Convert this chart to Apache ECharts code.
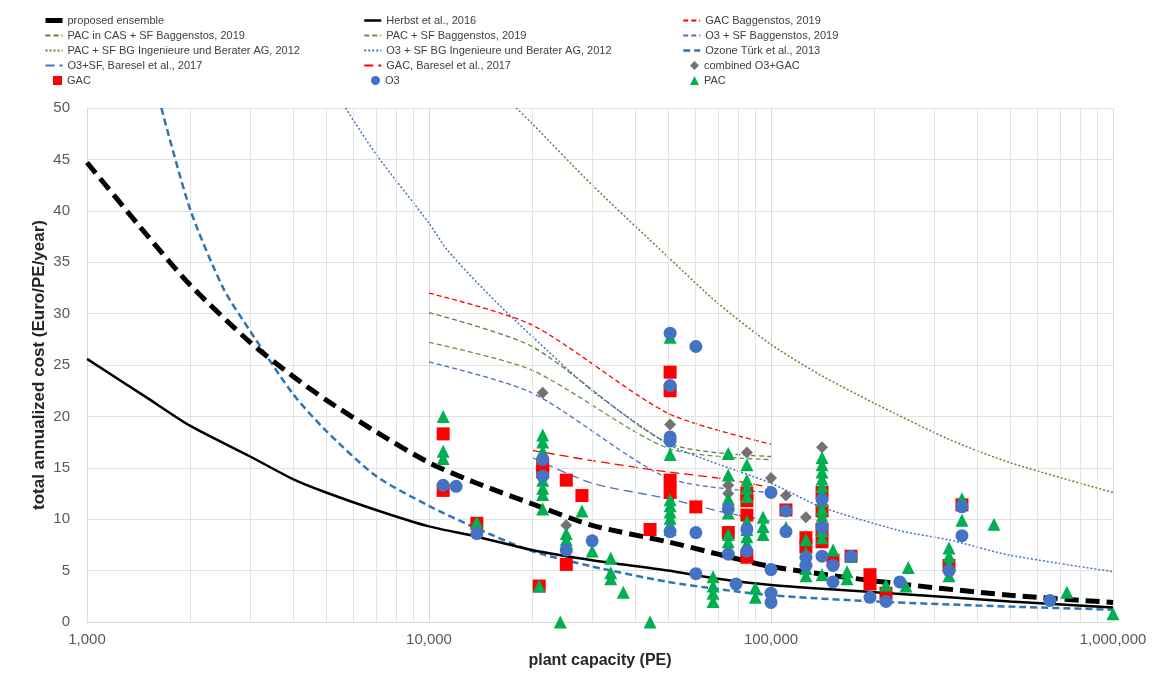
<!DOCTYPE html>
<html>
<head>
<meta charset="utf-8">
<script src="https://cdn.jsdelivr.net/npm/echarts@6/dist/echarts.min.js"></script>
<style>
html,body{margin:0;padding:0;background:#fff;}
#chart{width:1170px;height:677px;}
</style>
</head>
<body>
<div id="chart"></div>
<script>
// ---- axis ticks ----
const xTicks = [1000, 10000, 100000, 1000000];
const yTicks = [0, 5, 10, 15, 20, 25, 30, 35, 40, 45, 50];

// ---- line series (PE, cost) ----
const proposedEnsemble = [[1000,44.7],[1500,37.6],[2000,32.8],[3000,27.2],[4000,23.9],[5000,21.6],[7000,18.5],[10000,15.5],[13800,13.5],[20000,11.5],[30000,9.4],[50000,7.8],[70000,6.6],[100000,5.4],[200000,4.0],[500000,2.6],[1000000,1.9]];
const herbst2016 = [[1000,25.6],[1500,21.8],[2000,19.1],[3000,16.1],[4000,13.9],[5000,12.6],[7000,10.9],[10000,9.3],[13800,8.3],[20000,7.0],[30000,6.0],[50000,5.0],[70000,4.2],[100000,3.6],[200000,2.9],[500000,2.0],[1000000,1.4]];
const gacBaggenstos = [[10000,32.0],[20000,28.9],[50000,20.3],[100000,17.3]];
const pacCasSfBaggenstos = [[10000,30.1],[20000,26.8],[50000,17.4],[100000,16.1]];
const pacSfBaggenstos = [[10000,27.2],[20000,24.5],[50000,16.9],[100000,15.8]];
const o3SfBaggenstos = [[10000,25.3],[20000,22.3],[50000,14.0],[100000,12.6]];
const pacSfBG = [[18000,50],[20000,48.5],[30000,42.5],[50000,35.5],[70000,31.0],[100000,27.0],[140000,24.0],[200000,21.3],[330000,17.8],[500000,15.5],[1000000,12.6]];
const o3SfBG = [[5700,50],[7000,45.5],[10000,38.8],[11300,36.2],[15000,31.8],[20000,27.8],[30000,22.5],[50000,17.3],[62000,16.0],[100000,13.5],[140000,11.2],[237000,8.9],[330000,8.0],[500000,6.5],[1000000,4.9]];
const ozoneTurk = [[1650,50],[2000,40.2],[2500,32.5],[3000,28.3],[4000,22.2],[5000,18.6],[7000,14.2],[10000,11.3],[13800,9.1],[20000,6.9],[30000,5.4],[50000,3.9],[70000,3.2],[100000,2.6],[200000,2.0],[500000,1.5],[1000000,1.2]];
const o3SfBaresel = [[20000,16.0],[30000,13.5],[50000,12.0],[70000,10.8],[100000,9.8]];
const gacBaresel = [[20000,16.7],[30000,15.7],[50000,14.6],[70000,14.0],[100000,13.1]];

// ---- scatter series (PE, cost) ----
const combinedPoints = [[21500,22.3],[25200,9.4],[50700,19.2],[75000,13.3],[75000,12.5],[85000,16.5],[100000,14.0],[110600,12.3],[126500,10.2],[141000,17.0]];
const gacPoints = [[11000,18.3],[11000,12.8],[13800,9.6],[21000,3.5],[21500,15.3],[21500,14.6],[25200,13.8],[25200,5.6],[28000,12.3],[44300,9.0],[50700,24.3],[50700,22.5],[50700,13.8],[50700,12.6],[60300,11.2],[75000,8.7],[85000,12.5],[85000,11.8],[85000,10.4],[85000,6.3],[110600,10.9],[126500,8.2],[126500,7.3],[141000,12.6],[141000,10.8],[141000,9.0],[141000,7.8],[151800,6.0],[171400,6.4],[194700,4.6],[194700,3.7],[216900,2.8],[331500,5.5],[361700,11.4]];
const pacPoints = [[11000,20.0],[11000,16.6],[11000,15.9],[13800,9.7],[21000,3.5],[21500,18.2],[21500,17.5],[21500,16.6],[21500,13.8],[21500,13.0],[21500,12.4],[21500,11.0],[24200,0],[25200,8.6],[25200,8.0],[25200,7.4],[28000,10.8],[30000,6.9],[34000,6.2],[34000,4.8],[34000,4.2],[37000,2.9],[44300,0],[50700,27.7],[50700,16.3],[50700,11.9],[50700,11.3],[50700,10.7],[50700,10.1],[50700,9.5],[50700,9.0],[67700,4.4],[67700,3.5],[67700,2.8],[67700,2.0],[75000,16.4],[75000,14.3],[75000,12.0],[75000,11.5],[75000,10.6],[75000,8.5],[75000,7.8],[75000,7.2],[85000,15.3],[85000,13.8],[85000,13.0],[85000,12.2],[85000,9.8],[85000,9.0],[85000,8.3],[85000,7.6],[90000,3.3],[90000,2.4],[94800,10.2],[94800,9.3],[94800,8.5],[110600,9.2],[126500,8.0],[126500,6.7],[126500,6.0],[126500,5.2],[126500,4.5],[141000,16.0],[141000,15.3],[141000,14.6],[141000,13.9],[141000,13.2],[141000,12.5],[141000,11.8],[141000,11.0],[141000,10.3],[141000,9.6],[141000,8.9],[141000,8.2],[141000,4.6],[151800,7.0],[166800,4.9],[166800,4.2],[171400,6.4],[216900,3.6],[248000,3.5],[252000,5.3],[331500,7.2],[331500,6.4],[331500,5.6],[331500,4.5],[361700,12.0],[361700,9.9],[448700,9.5],[733000,2.9],[1000000,0.8]];
const o3Points = [[11000,13.3],[12000,13.2],[13800,8.6],[21500,15.8],[21500,14.2],[25200,7.0],[30000,7.9],[50700,28.1],[50700,23.0],[50700,18.0],[50700,17.6],[50700,8.8],[60300,26.8],[60300,8.7],[60300,4.7],[75000,11.0],[75000,6.6],[79000,3.7],[85000,9.0],[85000,6.9],[100000,12.6],[100000,5.1],[100000,2.8],[100000,1.9],[110600,10.8],[110600,8.8],[126500,6.3],[126500,5.5],[141000,11.9],[141000,9.2],[141000,6.4],[151800,5.5],[151800,3.9],[171400,6.4],[194700,2.4],[216900,2.0],[238000,3.9],[331500,5.0],[361700,11.2],[361700,8.4],[654000,2.1]];

// minor vertical gridlines at 2..9 x each decade
const minorGrid = [];
for (let i = 0; i < xTicks.length - 1; i++) {
  for (let k = 2; k <= 9; k++) minorGrid.push(k * xTicks[i]);
}

const FONT = 'Liberation Sans';
const chart = echarts.init(document.getElementById('chart'), null, {renderer: 'canvas'});

function lineSeries(name, data, color, width, dash, z) {
  return {
    name, type: 'line', data, symbol: 'none', smooth: 0.25,
    lineStyle: {color, width, type: dash},
    itemStyle: {color},
    z: z || 3, clip: true
  };
}
function scatterSeries(name, data, symbol, size, color, z) {
  return {
    name, type: 'scatter', data, symbol, symbolSize: size,
    itemStyle: {color, opacity: 1}, z
  };
}

const legendText = {fontFamily: FONT, fontSize: 11, color: '#404040', lineHeight: 13};
const ROW0 = 14, ROWH = 15;
function lineLegend(left, names) {
  return {
    orient: 'vertical', left, top: ROW0, itemGap: 2, itemWidth: 17, itemHeight: 9,
    textStyle: legendText, data: names, selectedMode: false, padding: 0,
    itemStyle: {opacity: 0}
  };
}
function symbolLegend(left, row, name) {
  return {
    orient: 'vertical', left, top: ROW0 + row * ROWH, itemGap: 2, itemWidth: 9, itemHeight: 9,
    textStyle: legendText, data: [name], selectedMode: false, padding: 0
  };
}

const option = {
  backgroundColor: '#ffffff',
  animation: false,
  legend: [
    lineLegend(43, [{name: 'proposed ensemble', lineStyle: {width: 5, type: 'solid'}}, 'PAC in CAS + SF Baggenstos, 2019', 'PAC + SF BG Ingenieure und Berater AG, 2012', 'O3+SF, Baresel et al., 2017']),
    lineLegend(363, [{name: 'Herbst et al., 2016', lineStyle: {width: 2.5}}, 'PAC + SF Baggenstos, 2019', 'O3 + SF BG Ingenieure und Berater AG, 2012', 'GAC, Baresel et al., 2017']),
    lineLegend(682, ['GAC Baggenstos, 2019', 'O3 + SF Baggenstos, 2019', {name: 'Ozone Türk et al., 2013', lineStyle: {width: 2.5}}]),
    symbolLegend(53, 4, 'GAC'),
    symbolLegend(371, 4, 'O3'),
    symbolLegend(690, 3, 'combined O3+GAC'),
    symbolLegend(690, 4, 'PAC')
  ],
  grid: {left: 87, right: 57, top: 108, bottom: 55},
  xAxis: {
    type: 'log', logBase: 10, min: xTicks[0], max: xTicks[xTicks.length - 1],
    name: 'plant capacity (PE)', nameLocation: 'middle', nameGap: 31,
    nameTextStyle: {fontFamily: FONT, fontSize: 16, fontWeight: 'bold', color: '#262626'},
    axisLine: {show: true, lineStyle: {color: '#d9d9d9'}},
    axisTick: {show: false},
    axisLabel: {fontFamily: FONT, fontSize: 15, color: '#595959', margin: 10,
      formatter: v => Number(v).toLocaleString('en-US')},
    splitLine: {show: true, lineStyle: {color: '#d9d9d9', width: 1}}
  },
  yAxis: {
    type: 'value', min: yTicks[0], max: yTicks[yTicks.length - 1], interval: 5,
    name: 'total annualized cost (Euro/PE/year)', nameLocation: 'middle', nameGap: 39,
    nameMoveOverlap: false,
    nameTextStyle: {fontFamily: FONT, fontSize: 17, fontWeight: 'bold', color: '#262626'},
    axisLine: {show: false}, axisTick: {show: false},
    axisLabel: {fontFamily: FONT, fontSize: 15, color: '#595959', margin: 17},
    splitLine: {show: true, lineStyle: {color: '#e3e3e3', width: 1}}
  },
  series: [
    {
      name: '_minorGrid', type: 'line', data: [], z: 0, silent: true,
      markLine: {
        silent: true, symbol: 'none', label: {show: false},
        lineStyle: {color: '#e3e3e3', width: 1, type: 'solid'},
        data: minorGrid.map(v => ({xAxis: v}))
      }
    },
    lineSeries('proposed ensemble', proposedEnsemble, '#000000', 5, [14, 7], 9),
    lineSeries('Herbst et al., 2016', herbst2016, '#000000', 2.5, 'solid', 8),
    lineSeries('GAC Baggenstos, 2019', gacBaggenstos, '#ff0000', 1.3, [5, 3]),
    lineSeries('PAC in CAS + SF Baggenstos, 2019', pacCasSfBaggenstos, '#5e7f3a', 1.3, [5, 3]),
    lineSeries('PAC + SF Baggenstos, 2019', pacSfBaggenstos, '#6f8f45', 1.3, [5, 3]),
    lineSeries('O3 + SF Baggenstos, 2019', o3SfBaggenstos, '#4a6fc0', 1.3, [5, 3]),
    lineSeries('PAC + SF BG Ingenieure und Berater AG, 2012', pacSfBG, '#7a7a32', 1.5, [2, 2]),
    lineSeries('O3 + SF BG Ingenieure und Berater AG, 2012', o3SfBG, '#4472c4', 1.5, [2, 2]),
    lineSeries('Ozone Türk et al., 2013', ozoneTurk, '#2e75b6', 2.5, [7, 4], 7),
    lineSeries('O3+SF, Baresel et al., 2017', o3SfBaresel, '#4a6fc0', 1.3, [9, 5]),
    lineSeries('GAC, Baresel et al., 2017', gacBaresel, '#ff0000', 1.3, [9, 5]),
    scatterSeries('combined O3+GAC', combinedPoints, 'diamond', 12, '#767171', 10),
    scatterSeries('GAC', gacPoints, 'rect', 13, '#ff0000', 11),
    scatterSeries('PAC', pacPoints, 'triangle', 13, '#00b050', 12),
    scatterSeries('O3', o3Points, 'circle', 13, '#4472c4', 13)
  ]
};
chart.setOption(option);
</script>
</body>
</html>
